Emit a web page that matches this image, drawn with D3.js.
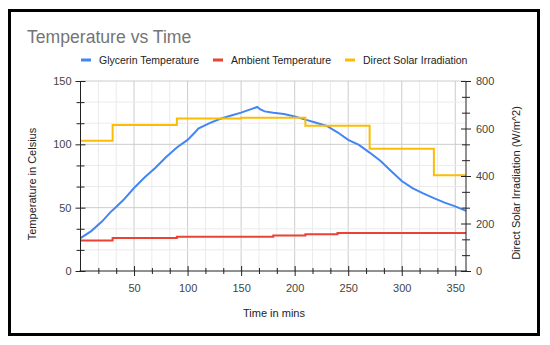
<!DOCTYPE html>
<html lang="en">
<head>
    <meta charset="UTF-8">
    <title>Temperature vs Time</title>
    <script src="https://d3js.org/d3.v7.min.js"></script>
    <style>
        html, body { margin: 0; padding: 0; background: #fff; }
        svg { display: block; font-family: "Liberation Sans", Arial, sans-serif; }
    </style>
</head>
<body>
<svg width="550" height="345"></svg>
<script>
    // Glycerin temperature (deg C)
    const glyTime = [0, 10, 20, 28, 32, 40, 50, 60, 70, 80, 90, 100, 107, 110, 120, 130, 140, 150, 160, 165, 168, 172, 180, 190, 200, 210, 220, 230, 240, 250, 260, 270, 280, 290, 300, 310, 320, 330, 340, 350, 360];
    const glyTemp = [26, 31.5, 39, 46.5, 49.5, 56, 65.5, 74, 81.5, 90, 97.5, 103.5, 109.5, 112.5, 116.5, 120, 122.5, 125, 128, 129.5, 127.5, 126, 125, 124, 122, 119.5, 117, 114.5, 109.5, 103.5, 99.5, 93.5, 87, 79, 71, 65.5, 61.3, 57.5, 54, 51, 47.5];

    // Ambient temperature (deg C), step values
    const ambTime = [0, 30, 90, 180, 210, 240, 360];
    const ambTemp = [24, 26, 27, 28, 29, 30, 30];

    // Direct solar irradiation (W/m^2), step values
    const irrTime = [0, 30, 90, 150, 210, 270, 330, 360];
    const irrVal = [548, 615, 642, 645, 612, 515, 403, 403];

    const seriesNames = ["Glycerin Temperature", "Ambient Temperature", "Direct Solar Irradiation"];
    const seriesColors = ["#4285f4", "#ea4335", "#fbbc04"];

    const svg = d3.select("svg");
    const pLeft = 80.5, pRight = 466, pTop = 81, pBottom = 271;

    const x = d3.scaleLinear().domain([0, 360]).range([pLeft, pRight]);
    const y = d3.scaleLinear().domain([0, 150]).range([pBottom, pTop]);
    const y2 = d3.scaleLinear().domain([0, 800]).range([pBottom, pTop]);

    const xTicks = d3.range(1, 22).map(i => i * 50 / 3);
    const yTicks = d3.range(0, 10).map(i => i * 150 / 9);
    const y2Ticks = d3.range(0, 13).map(i => i * 800 / 12);
    const isMajor = v => Math.abs(v / 50 - Math.round(v / 50)) < 1e-6;
    const isMajor2 = v => Math.abs(v / 200 - Math.round(v / 200)) < 1e-6;

    // frame
    svg.append("rect")
        .attr("x", 9.5).attr("y", 10.5).attr("width", 529).attr("height", 324)
        .attr("fill", "#fff").attr("stroke", "#000").attr("stroke-width", 3);

    // grid
    const grid = svg.append("g");
    grid.selectAll("line.v")
        .data(xTicks)
        .join("line")
        .attr("class", "v")
        .attr("x1", d => x(d)).attr("x2", d => x(d))
        .attr("y1", pTop).attr("y2", pBottom)
        .attr("stroke", d => isMajor(d) ? "#cccccc" : "#ebebeb");
    grid.selectAll("line.h")
        .data(yTicks.slice(1))
        .join("line")
        .attr("class", "h")
        .attr("x1", pLeft).attr("x2", pRight)
        .attr("y1", d => y(d)).attr("y2", d => y(d))
        .attr("stroke", d => isMajor(d) ? "#cccccc" : "#ebebeb");

    // lines
    const glyLine = d3.line().x(d => x(d[0])).y(d => y(d[1]));
    const stepLine = d3.line().x(d => x(d[0])).y(d => y(d[1])).curve(d3.curveStepAfter);
    const stepLine2 = d3.line().x(d => x(d[0])).y(d => y2(d[1])).curve(d3.curveStepAfter);

    svg.append("path")
        .attr("d", stepLine(d3.zip(ambTime, ambTemp)))
        .attr("fill", "none").attr("stroke", seriesColors[1]).attr("stroke-width", 2);
    svg.append("path")
        .attr("d", glyLine(d3.zip(glyTime, glyTemp)))
        .attr("fill", "none").attr("stroke", seriesColors[0]).attr("stroke-width", 2);
    svg.append("path")
        .attr("d", stepLine2(d3.zip(irrTime, irrVal)))
        .attr("fill", "none").attr("stroke", seriesColors[2]).attr("stroke-width", 2);

    // axes
    const xAxis = svg.append("g")
        .attr("transform", `translate(0,${pBottom})`)
        .call(d3.axisBottom(x).tickValues(xTicks).tickSize(0).tickPadding(13)
            .tickFormat(d => isMajor(d) ? d3.format("d")(d) : ""));
    xAxis.select(".domain").attr("stroke", "#222").attr("d", `M${pLeft - 1},0H${pRight + 1}`);
    xAxis.selectAll(".tick line").attr("stroke", "#222")
        .attr("y1", d => isMajor(d) ? -5 : -3).attr("y2", d => isMajor(d) ? 5 : 3);

    const yAxis = svg.append("g")
        .attr("transform", `translate(${pLeft},0)`)
        .call(d3.axisLeft(y).tickValues(yTicks).tickSize(0).tickPadding(9)
            .tickFormat(d => isMajor(d) ? d3.format("d")(d) : ""));
    yAxis.select(".domain").attr("stroke", "#222").attr("d", `M0,${pBottom}V${pTop}`);
    yAxis.selectAll(".tick line").attr("stroke", "#222")
        .attr("x1", d => isMajor(d) ? -5 : -4).attr("x2", d => isMajor(d) ? 5 : 4);

    const y2Axis = svg.append("g")
        .attr("transform", `translate(${pRight},0)`)
        .call(d3.axisRight(y2).tickValues(y2Ticks).tickSize(0).tickPadding(10)
            .tickFormat(d => isMajor2(d) ? d3.format("d")(d) : ""));
    y2Axis.select(".domain").attr("stroke", "#222").attr("d", `M0,${pBottom}V${pTop}`);
    y2Axis.selectAll(".tick line").attr("stroke", "#222")
        .attr("x1", d => isMajor2(d) ? -5 : -4).attr("x2", d => isMajor2(d) ? 5 : 4);

    svg.selectAll(".tick text")
        .attr("font-size", 11).attr("fill", "#444")
        .attr("font-family", "'Liberation Sans', Arial, sans-serif");

    // titles
    svg.append("text")
        .attr("x", 27).attr("y", 42.5)
        .attr("font-size", 17.6).attr("fill", "#757575")
        .text("Temperature vs Time");

    svg.append("text")
        .attr("x", 274).attr("y", 316.5).attr("text-anchor", "middle")
        .attr("font-size", 11).attr("fill", "#222")
        .text("Time in mins");

    svg.append("text")
        .attr("transform", "translate(35.5,184) rotate(-90)").attr("text-anchor", "middle")
        .attr("font-size", 11).attr("fill", "#222")
        .text("Temperature in Celsius");

    svg.append("text")
        .attr("transform", "translate(519.5,183) rotate(-90)").attr("text-anchor", "middle")
        .attr("font-size", 11).attr("fill", "#222")
        .text("Direct Solar Irradiation (W/m^2)");

    // legend
    const legX = [81, 213, 345];
    const legend = svg.append("g");
    seriesNames.forEach((name, i) => {
        legend.append("rect")
            .attr("x", legX[i]).attr("y", 58.5).attr("width", 10).attr("height", 3)
            .attr("fill", seriesColors[i]);
        legend.append("text")
            .attr("x", legX[i] + 18).attr("y", 64)
            .attr("font-size", 10.5).attr("fill", "#222")
            .text(name);
    });
</script>
</body>
</html>
